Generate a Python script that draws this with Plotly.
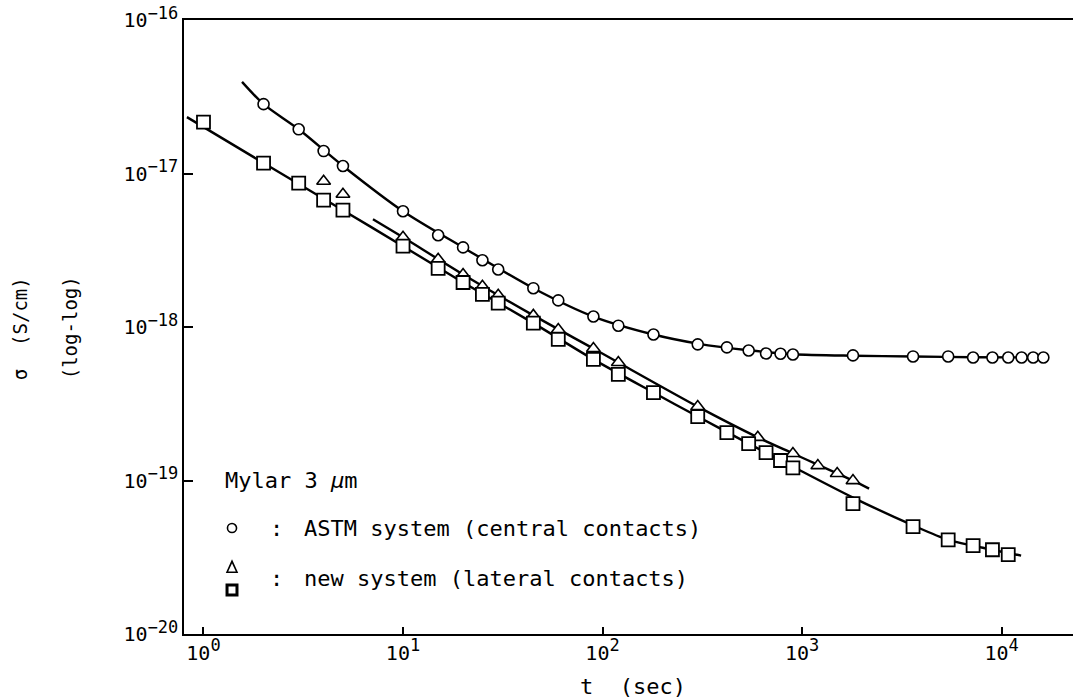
import plotly.graph_objects as go

# Measured conductivity of 3 um Mylar versus time (log-log)
astm_t = [2, 3, 4, 5, 10, 15, 20, 25, 30, 45, 60, 90, 120, 180, 300, 420, 540, 660,
          780, 900, 1800, 3600, 5400, 7200, 9000, 10800, 12600, 14400, 16200]
astm_sigma = [2.83e-17, 1.94e-17, 1.40e-17, 1.12e-17, 5.68e-18, 3.96e-18, 3.30e-18,
              2.72e-18, 2.37e-18, 1.79e-18, 1.49e-18, 1.17e-18, 1.02e-18, 8.94e-19,
              7.71e-19, 7.37e-19, 7.03e-19, 6.72e-19, 6.70e-19, 6.62e-19, 6.53e-19,
              6.43e-19, 6.43e-19, 6.33e-19, 6.33e-19, 6.33e-19, 6.33e-19, 6.33e-19, 6.33e-19]

tri_t = [4, 5, 10, 15, 20, 25, 30, 45, 60, 90, 120, 300, 600, 900, 1200, 1500, 1800]
tri_sigma = [8.91e-18, 7.33e-18, 3.84e-18, 2.76e-18, 2.20e-18, 1.84e-18, 1.61e-18,
             1.19e-18, 9.64e-19, 7.24e-19, 5.87e-19, 3.03e-19, 1.91e-19, 1.50e-19,
             1.25e-19, 1.11e-19, 9.98e-20]

sq_t = [1, 2, 3, 4, 5, 10, 15, 20, 25, 30, 45, 60, 90, 120, 180, 300, 420, 540, 660,
        780, 900, 1800, 3600, 5400, 7200, 9000, 10800]
sq_sigma = [2.16e-17, 1.17e-17, 8.65e-18, 6.70e-18, 5.77e-18, 3.36e-18, 2.41e-18,
            1.95e-18, 1.63e-18, 1.43e-18, 1.06e-18, 8.30e-19, 6.15e-19, 4.91e-19,
            3.74e-19, 2.61e-19, 2.05e-19, 1.74e-19, 1.52e-19, 1.35e-19, 1.21e-19,
            7.07e-20, 5.00e-20, 4.11e-20, 3.76e-20, 3.54e-20, 3.29e-20]

# Fitted curves
astm_fit_t = [1.56, 2, 3, 5, 10, 20, 45, 90, 180, 300, 540, 900, 1800, 3600, 7200, 16200]
astm_fit_sigma = [3.95e-17, 2.83e-17, 1.94e-17, 1.12e-17, 5.68e-18, 3.30e-18, 1.79e-18,
                  1.17e-18, 8.94e-19, 7.80e-19, 7.05e-19, 6.65e-19, 6.50e-19, 6.43e-19,
                  6.35e-19, 6.33e-19]

tri_fit_t = [7.07, 10, 20, 45, 90, 120, 300, 600, 900, 1800, 2168]
tri_fit_sigma = [5.04e-18, 3.84e-18, 2.20e-18, 1.19e-18, 7.24e-19, 5.87e-19, 3.03e-19,
                 1.91e-19, 1.50e-19, 9.98e-20, 8.85e-20]

sq_fit_t = [0.826, 2, 5, 10, 20, 45, 90, 180, 300, 540, 900, 1800, 3600, 5400, 9000, 12530]
sq_fit_sigma = [2.33e-17, 1.17e-17, 5.77e-18, 3.36e-18, 1.95e-18, 1.06e-18, 6.15e-19,
                3.74e-19, 2.61e-19, 1.74e-19, 1.23e-19, 7.74e-20, 5.10e-20, 4.11e-20,
                3.54e-20, 3.24e-20]

SUP = '<sup><span style="font-size:17px">{}</span></sup>'
x_ticks = [1, 10, 100, 1000, 10000]
x_ticktext = ["10" + SUP.format(e) for e in ["0", "1", "2", "3", "4"]]
y_ticks = [1e-20, 1e-19, 1e-18, 1e-17, 1e-16]
y_ticktext = ["10" + SUP.format(e) for e in ["−20", "−19", "−18", "−17", "−16"]]

FONT = "DejaVu Sans Mono"
INK = "black"

fig = go.Figure()

for ft, fs in [(astm_fit_t, astm_fit_sigma), (tri_fit_t, tri_fit_sigma), (sq_fit_t, sq_fit_sigma)]:
    fig.add_trace(go.Scatter(x=ft, y=fs, mode="lines",
                             line=dict(color=INK, width=2.4, shape="spline", smoothing=0.8),
                             hoverinfo="skip", showlegend=False))

fig.add_trace(go.Scatter(x=astm_t, y=astm_sigma, mode="markers", showlegend=False,
                         marker=dict(symbol="circle", size=11, color="white",
                                     line=dict(color=INK, width=1.6))))
fig.add_trace(go.Scatter(x=tri_t, y=tri_sigma, mode="markers", showlegend=False,
                         marker=dict(symbol="triangle-up", size=12, color="white",
                                     line=dict(color=INK, width=1.6))))
fig.add_trace(go.Scatter(x=sq_t, y=sq_sigma, mode="markers", showlegend=False,
                         marker=dict(symbol="square", size=13, color="white",
                                     line=dict(color=INK, width=1.8))))

fig.update_xaxes(type="log", range=[-0.0977, 4.358], tickvals=x_ticks, ticktext=x_ticktext,
                 ticks="inside", ticklen=7, tickwidth=1.5, tickcolor=INK,
                 showline=True, linewidth=1.5, linecolor=INK, mirror=True,
                 showgrid=False, zeroline=False,
                 tickfont=dict(family=FONT, size=20, color=INK))
fig.update_yaxes(type="log", range=[-20, -16], tickvals=y_ticks, ticktext=y_ticktext,
                 ticks="inside", ticklen=9, tickwidth=1.5, tickcolor=INK,
                 showline=True, linewidth=1.5, linecolor=INK,
                 showgrid=False, zeroline=False,
                 tickfont=dict(family=FONT, size=20, color=INK))

ann_font = dict(family=FONT, size=22, color=INK)
annotations = [
    dict(x=0.0439, y=0.2508, text="Mylar 3 <i>μ</i>m", xanchor="left", yanchor="middle"),
    dict(x=0.1035, y=0.1726, text=":", xanchor="center", yanchor="middle"),
    dict(x=0.1327, y=0.1726, text="ASTM system (central contacts)", xanchor="left", yanchor="middle"),
    dict(x=0.1035, y=0.0912, text=":", xanchor="center", yanchor="middle"),
    dict(x=0.1327, y=0.0912, text="new system (lateral contacts)", xanchor="left", yanchor="middle"),
    dict(x=0.505, y=-0.0847, text="t  (sec)", xanchor="center", yanchor="middle"),
]
for a in annotations:
    fig.add_annotation(xref="paper", yref="paper", showarrow=False, font=ann_font, **a)

for xp, txt in [(-0.1845, "σ  (S/cm)"), (-0.1282, "(log-log)")]:
    fig.add_annotation(xref="paper", yref="paper", x=xp, y=0.498, text=txt, textangle=-90,
                       showarrow=False, xanchor="center", yanchor="middle",
                       font=dict(family=FONT, size=19, color=INK))

# key symbols
fig.add_shape(type="circle", xref="paper", yref="paper",
              x0=0.054 - 0.0051, x1=0.054 + 0.0051, y0=0.1726 - 0.0074, y1=0.1726 + 0.0074,
              line=dict(color=INK, width=1.6), fillcolor="white")
fig.add_shape(type="path", xref="paper", yref="paper",
              path="M 0.0484 0.1005 L 0.0596 0.1005 L 0.054 0.1184 Z",
              line=dict(color=INK, width=1.6), fillcolor="white")
fig.add_shape(type="rect", xref="paper", yref="paper",
              x0=0.054 - 0.0056, x1=0.054 + 0.0056, y0=0.0717 - 0.0081, y1=0.0717 + 0.0081,
              line=dict(color=INK, width=3), fillcolor="white")

fig.update_layout(width=1073, height=700, margin=dict(l=184, r=0, t=20, b=66),
                  paper_bgcolor="white", plot_bgcolor="white", showlegend=False)

fig.write_html("out.html")
